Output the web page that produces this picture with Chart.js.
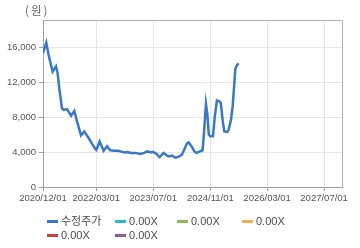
<!DOCTYPE html>
<html><head><meta charset="utf-8">
<script src="https://cdn.jsdelivr.net/npm/chart.js@4/dist/chart.umd.min.js"></script>
<style>
html,body{margin:0;padding:0;background:#fff;}
#wrap{position:relative;width:360px;height:248px;overflow:hidden;}
canvas{position:absolute;left:0;top:0;}
.lg{position:absolute;font:11px "Liberation Sans","Noto Sans CJK KR",sans-serif;color:#4a4a4a;white-space:nowrap;line-height:12px;}
.lg i{display:inline-block;width:11px;height:3px;vertical-align:middle;margin-right:3px;position:relative;top:-1px;}
</style></head><body>
<div id="wrap"><canvas id="c" width="360" height="248"></canvas><div id="legend"></div></div>
<script>
const dates = ["2020-12-01","2020-12-29","2021-01-18","2021-02-21","2021-03-22","2021-04-05","2021-04-19","2021-05-12","2021-05-26","2021-06-24","2021-07-29","2021-08-26","2021-09-18","2021-10-22","2021-11-19","2021-12-26","2022-01-26","2022-02-21","2022-03-02","2022-03-30","2022-05-03","2022-06-01","2022-06-29","2022-08-03","2022-09-06","2022-10-01","2022-10-27","2022-11-22","2022-12-26","2023-01-29","2023-03-13","2023-04-16","2023-05-09","2023-06-06","2023-07-04","2023-07-28","2023-08-25","2023-09-28","2023-10-21","2023-11-10","2023-12-11","2024-01-06","2024-02-01","2024-03-03","2024-03-23","2024-04-15","2024-04-29","2024-05-22","2024-06-16","2024-07-04","2024-07-29","2024-08-26","2024-09-06","2024-09-24","2024-10-06","2024-10-18","2024-10-31","2024-11-23","2024-12-08","2024-12-27","2025-01-16","2025-01-29","2025-02-15","2025-02-28","2025-03-25","2025-04-05","2025-04-26","2025-05-11","2025-06-02","2025-06-15","2025-06-30"];
const prices = [15300,16500,15100,13200,13800,13000,11300,9000,8850,8900,8150,8700,7500,5900,6350,5600,4900,4350,4250,5200,4150,4650,4200,4150,4150,4050,3950,4000,3880,3900,3770,3900,4070,3980,4000,3800,3400,3900,3650,3500,3600,3350,3450,3700,4300,5000,5100,4700,4100,3900,4050,4200,6000,9500,8300,6000,5800,5800,8000,9900,9800,9600,7500,6350,6300,6500,7700,9300,13500,13900,14150];
const xTickDates = ["2020-12-01","2022-03-01","2023-07-01","2024-11-01","2026-03-01","2027-07-01"];
const xRange = ["2020-12-01","2027-12-01"];
const yTicks = [0,4000,8000,12000,16000];
const yMax = 19100;
const unitLabel = "(원)";
const seriesNames = ["수정주가","0.00X","0.00X","0.00X","0.00X","0.00X"];
const seriesColors = ["#3a78c6","#2bb8c8","#8db85a","#eab04a","#c9403a","#8e5aa0"];

const ms = s => Date.parse(s + "T00:00:00Z");
const fmt = s => s.replace(/-/g, "/");
const pts = dates.map((d, i) => ({x: ms(d), y: prices[i]}));
const tickVals = xTickDates.map(ms);

const boxPlugin = {
  id: 'box',
  afterDraw(chart) {
    const a = chart.chartArea, ctx = chart.ctx;
    ctx.save();
    ctx.strokeStyle = '#b4b4b4'; ctx.lineWidth = 1;
    ctx.beginPath();
    ctx.moveTo(a.left, a.top + 0.5); ctx.lineTo(a.right + 0.5, a.top + 0.5); ctx.lineTo(a.right + 0.5, a.bottom);
    ctx.stroke();
    ctx.fillStyle = '#666';
    ctx.font = '11.5px "Noto Sans CJK KR", sans-serif';
    ctx.letterSpacing = '2px';
    ctx.textBaseline = 'middle';
    ctx.fillText(unitLabel, 25, 11);
    ctx.restore();
  }
};

new Chart(document.getElementById('c'), {
  type: 'line',
  data: { datasets: [{ data: pts, borderColor: seriesColors[0], borderWidth: 2.5, pointRadius: 0, tension: 0, fill: false }] },
  options: {
    responsive: false, animation: false,
    layout: { padding: { top: 20, right: 18, left: 0, bottom: 0 } },
    plugins: { legend: { display: false }, tooltip: { enabled: false } },
    scales: {
      x: {
        type: 'linear', min: ms(xRange[0]), max: ms(xRange[1]),
        afterBuildTicks: s => { s.ticks = tickVals.map(v => ({ value: v })); },
        afterFit: s => { s.height = 61; },
        ticks: {
          autoSkip: false, maxRotation: 0, padding: 2, color: '#555',
          font: { family: '"Liberation Sans", Arial, sans-serif', size: 9.5 },
          callback: v => { const i = tickVals.indexOf(v); return i >= 0 ? fmt(xTickDates[i]) : ''; }
        },
        grid: { color: '#e6e6e6', tickColor: '#a0a0a0', tickLength: 4 },
        border: { color: '#a0a0a0' }
      },
      y: {
        min: 0, max: yMax,
        afterBuildTicks: s => { s.ticks = yTicks.map(v => ({ value: v })); },
        afterFit: s => { s.width = 43; },
        ticks: {
          padding: 3, color: '#555',
          font: { family: '"Liberation Sans", Arial, sans-serif', size: 9.5 },
          callback: v => v.toLocaleString('en-US')
        },
        grid: { color: '#e6e6e6', tickColor: '#a0a0a0', tickLength: 4 },
        border: { color: '#a0a0a0' }
      }
    }
  },
  plugins: [boxPlugin]
});

const legendPos = [[47,215],[115,215],[177,215],[242,215],[47,229],[115,229]];
const lg = document.getElementById('legend');
seriesNames.forEach((n, i) => {
  const d = document.createElement('div');
  d.className = 'lg';
  d.style.left = legendPos[i][0] + 'px';
  d.style.top = legendPos[i][1] + 'px';
  d.innerHTML = '<i style="background:' + seriesColors[i] + '"></i>' + n;
  lg.appendChild(d);
});
</script>
</body></html>
